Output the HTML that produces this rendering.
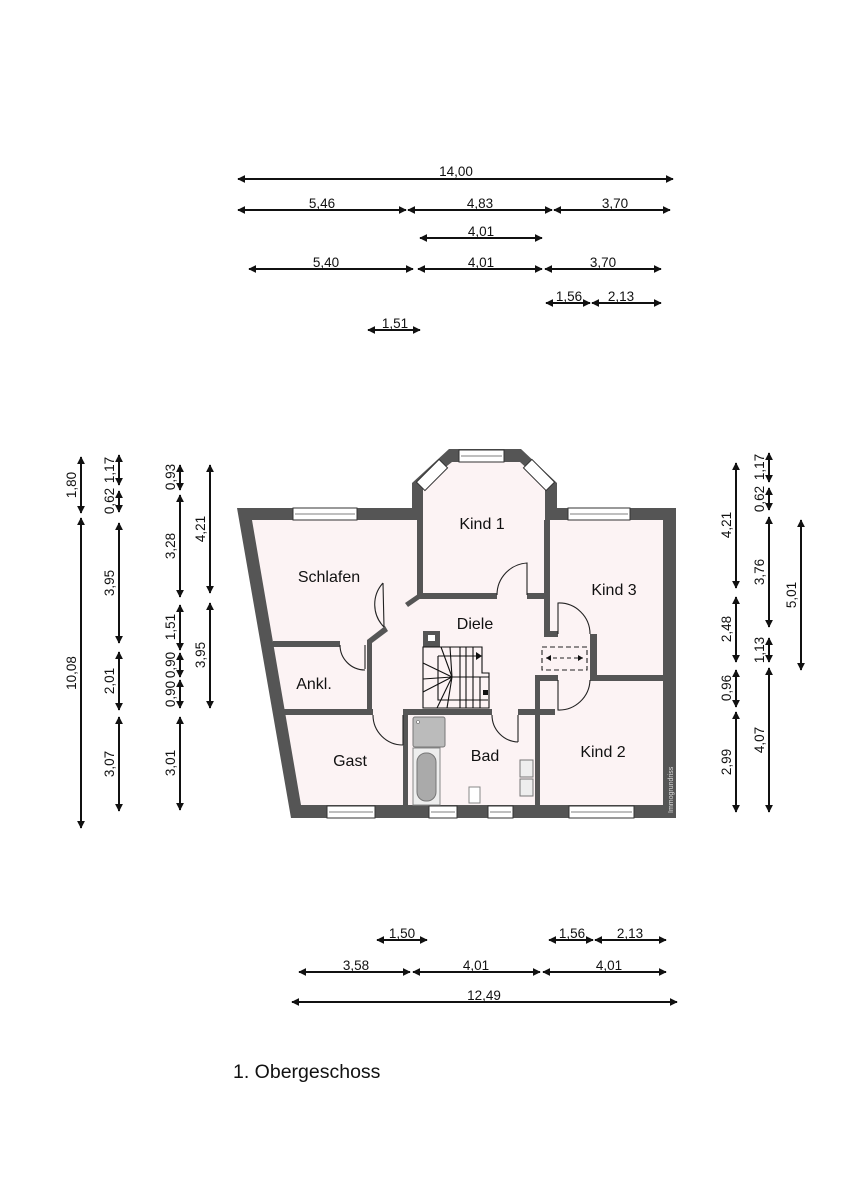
<!DOCTYPE html>
<html><head><meta charset="utf-8"><style>
html,body{margin:0;padding:0;background:#fff;}
svg{display:block;}
text{font-family:"Liberation Sans",Arial,sans-serif;fill:#111;}
</style></head><body>
<svg width="848" height="1200" viewBox="0 0 848 1200" xmlns="http://www.w3.org/2000/svg">
<defs>
<marker id="a" viewBox="0 0 10 10" refX="9" refY="5" markerWidth="8" markerHeight="8" orient="auto-start-reverse" markerUnits="userSpaceOnUse"><path d="M0,0 L10,5 L0,10 z" fill="#111"/></marker>
</defs>
<g stroke="#111" stroke-width="2" marker-start="url(#a)" marker-end="url(#a)" fill="none">
<line x1="238" y1="179" x2="673" y2="179"/>
<line x1="238" y1="210" x2="406" y2="210"/><line x1="408" y1="210" x2="552" y2="210"/><line x1="554" y1="210" x2="670" y2="210"/>
<line x1="420" y1="238" x2="542" y2="238"/>
<line x1="249" y1="269" x2="413" y2="269"/><line x1="418" y1="269" x2="542" y2="269"/><line x1="545" y1="269" x2="661" y2="269"/>
<line x1="546" y1="303" x2="590" y2="303"/><line x1="592" y1="303" x2="661" y2="303"/>
<line x1="368" y1="330" x2="420" y2="330"/>
<line x1="377" y1="940" x2="427" y2="940"/><line x1="549" y1="940" x2="593" y2="940"/><line x1="595" y1="940" x2="666" y2="940"/>
<line x1="299" y1="972" x2="410" y2="972"/><line x1="413" y1="972" x2="540" y2="972"/><line x1="543" y1="972" x2="666" y2="972"/>
<line x1="292" y1="1002" x2="677" y2="1002"/>
<line x1="81" y1="457" x2="81" y2="513"/><line x1="81" y1="518" x2="81" y2="828"/>
<line x1="119" y1="455" x2="119" y2="485"/><line x1="119" y1="491" x2="119" y2="512"/><line x1="119" y1="523" x2="119" y2="643"/><line x1="119" y1="652" x2="119" y2="710"/><line x1="119" y1="717" x2="119" y2="811"/>
<line x1="180" y1="465" x2="180" y2="490"/><line x1="180" y1="495" x2="180" y2="597"/><line x1="180" y1="605" x2="180" y2="650"/><line x1="180" y1="653" x2="180" y2="677"/><line x1="180" y1="680" x2="180" y2="708"/><line x1="180" y1="717" x2="180" y2="810"/>
<line x1="210" y1="465" x2="210" y2="593"/><line x1="210" y1="603" x2="210" y2="708"/>
<line x1="736" y1="463" x2="736" y2="588"/><line x1="736" y1="597" x2="736" y2="662"/><line x1="736" y1="670" x2="736" y2="707"/><line x1="736" y1="712" x2="736" y2="812"/>
<line x1="769" y1="453" x2="769" y2="482"/><line x1="769" y1="488" x2="769" y2="510"/><line x1="769" y1="517" x2="769" y2="627"/><line x1="769" y1="638" x2="769" y2="662"/><line x1="769" y1="668" x2="769" y2="812"/>
<line x1="801" y1="520" x2="801" y2="670"/>
</g>
<g font-size="13.5" text-anchor="middle">
<text x="456" y="176">14,00</text>
<text x="322" y="208">5,46</text><text x="480" y="208">4,83</text><text x="615" y="208">3,70</text>
<text x="481" y="236">4,01</text>
<text x="326" y="267">5,40</text><text x="481" y="267">4,01</text><text x="603" y="267">3,70</text>
<text x="569" y="301">1,56</text><text x="621" y="301">2,13</text>
<text x="395" y="328">1,51</text>
<text x="402" y="938">1,50</text><text x="572" y="938">1,56</text><text x="630" y="938">2,13</text>
<text x="356" y="970">3,58</text><text x="476" y="970">4,01</text><text x="609" y="970">4,01</text>
<text x="484" y="1000">12,49</text>
<g transform="rotate(-90)">
<text x="-485" y="76">1,80</text><text x="-673" y="76">10,08</text>
<text x="-470" y="114">1,17</text><text x="-501" y="114">0,62</text><text x="-583" y="114">3,95</text><text x="-681" y="114">2,01</text><text x="-764" y="114">3,07</text>
<text x="-477" y="175">0,93</text><text x="-546" y="175">3,28</text><text x="-627" y="175">1,51</text><text x="-665" y="175">0,90</text><text x="-694" y="175">0,90</text><text x="-763" y="175">3,01</text>
<text x="-529" y="205">4,21</text><text x="-655" y="205">3,95</text>
<text x="-525" y="731">4,21</text><text x="-629" y="731">2,48</text><text x="-688" y="731">0,96</text><text x="-762" y="731">2,99</text>
<text x="-467" y="764">1,17</text><text x="-499" y="764">0,62</text><text x="-572" y="764">3,76</text><text x="-650" y="764">1,13</text><text x="-740" y="764">4,07</text>
<text x="-595" y="796">5,01</text>
</g>
</g>
<polygon points="237,508 412,508 412,483 449,449 521,449 557,483 557,508 676,508 676,818 291,818" fill="#555"/>
<polygon points="252,520 423,520 423,485 452,462 520,462 545,485 545,520 663,520 663,805 301,805" fill="#fcf3f4"/>
<g fill="#555">
<rect x="417" y="520" width="6" height="78"/>
<rect x="417" y="593" width="80" height="6"/>
<rect x="527" y="593" width="20" height="6"/>
<rect x="544" y="520" width="6" height="116"/>
<rect x="544" y="631" width="14" height="6"/>
<polygon points="405,603 421,592 421,598 408,607"/>
<polygon points="367,640 385,626 388,631 372,643"/>
<rect x="367" y="640" width="5" height="75"/>
<rect x="273" y="641" width="67" height="6"/>
<rect x="283" y="709" width="90" height="6"/>
<rect x="403" y="709" width="89" height="6"/>
<rect x="403" y="709" width="5" height="97"/>
<rect x="518" y="709" width="37" height="6"/>
<rect x="535" y="675" width="5" height="131"/>
<rect x="535" y="675" width="23" height="6"/>
<rect x="590" y="634" width="7" height="46"/>
<rect x="590" y="675" width="73" height="6"/>
<rect x="423" y="631" width="17" height="16"/>
</g>
<rect x="428" y="635" width="7" height="6" fill="#fff"/>
<g fill="#fff" stroke="#333" stroke-width="1">
<rect x="293" y="508" width="64" height="12"/><rect x="568" y="508" width="62" height="12"/>
<rect x="459" y="450" width="45" height="12"/>
<rect x="327" y="806" width="48" height="12"/><rect x="429" y="806" width="28" height="12"/><rect x="488" y="806" width="25" height="12"/><rect x="569" y="806" width="65" height="12"/>
<rect x="-16" y="-6" width="32" height="12" transform="translate(432,475) rotate(-45)"/>
<rect x="-16" y="-6" width="32" height="12" transform="translate(539,475) rotate(45)"/>
</g>
<g stroke="#555" stroke-width="0.8">
<line x1="295" y1="514" x2="355" y2="514"/><line x1="570" y1="514" x2="628" y2="514"/><line x1="461" y1="456" x2="502" y2="456"/>
<line x1="329" y1="812" x2="373" y2="812"/><line x1="431" y1="812" x2="455" y2="812"/><line x1="490" y1="812" x2="511" y2="812"/><line x1="571" y1="812" x2="632" y2="812"/>
</g>
<g fill="none" stroke="#222" stroke-width="1.1">
<path d="M527,595 L527,563 A32,32 0 0 0 497,595"/>
<path d="M384,627 L383,583 M383,583 A32,32 0 0 0 384,627" />
<path d="M365,669 L365,645 M340,645 A25,25 0 0 0 365,670"/>
<path d="M403,715 L403,745 M373,715 A30,30 0 0 0 403,745"/>
<path d="M518,715 L518,742 M492,715 A27,27 0 0 0 518,742"/>
<path d="M558,634 L558,603 A31,31 0 0 1 590,634"/>
<path d="M558,680 L558,710 A31,31 0 0 0 590,680"/>
<rect x="542" y="647" width="45" height="23" stroke-dasharray="5,3"/>
<line x1="546" y1="658" x2="583" y2="658" stroke-dasharray="4,3"/>
</g>
<polygon points="546,658 551,655 551,661" fill="#111"/><polygon points="583,658 578,655 578,661" fill="#111"/>
<g fill="none" stroke="#111" stroke-width="1.1">
<path d="M423,647 L482,647 L482,673 L489,673 L489,708 L423,708 Z"/>
<path d="M438,656 L482,656 M438,656 L438,700 L488,700 M452,677 L489,677"/>
<path d="M450,647 L452,677 M460,647 L460,677 M466,647 L466,677 M473,647 L473,677"/>
<path d="M460,677 L460,708 M466,677 L466,708 M473,677 L473,708 M480,677 L480,708"/>
<path d="M423,663 L452,677 M423,679 L452,677 M423,692 L452,677 M437,708 L452,677 M447,708 L452,677 M441,647 L452,677"/>
</g>
<polygon points="476,652 482,656 476,660" fill="#111"/><rect x="483" y="690" width="5" height="5" fill="#111"/>
<rect x="413" y="717" width="32" height="30" fill="#bbb" stroke="#777" rx="2"/>
<circle cx="418" cy="722" r="1.5" fill="#fff" stroke="#666" stroke-width="0.6"/>
<rect x="413" y="748" width="27" height="57" fill="#eee" stroke="#888"/>
<rect x="417" y="753" width="19" height="48" rx="9" fill="#aaa" stroke="#777"/>
<rect x="520" y="760" width="13" height="17" fill="#eee" stroke="#777"/><rect x="520" y="779" width="13" height="17" fill="#eee" stroke="#777"/>
<rect x="469" y="787" width="11" height="16" fill="#fff" stroke="#888"/>
<g font-size="16" text-anchor="middle">
<text x="482" y="529">Kind 1</text><text x="329" y="582">Schlafen</text><text x="614" y="595">Kind 3</text>
<text x="475" y="629">Diele</text><text x="314" y="689">Ankl.</text><text x="350" y="766">Gast</text>
<text x="485" y="761">Bad</text><text x="603" y="757">Kind 2</text>
</g>
<text transform="translate(673,813) rotate(-90)" font-size="7" style="fill:#ddd">Immogrundriss</text>
<text x="233" y="1078" font-size="19.5">1. Obergeschoss</text>
</svg>
</body></html>
